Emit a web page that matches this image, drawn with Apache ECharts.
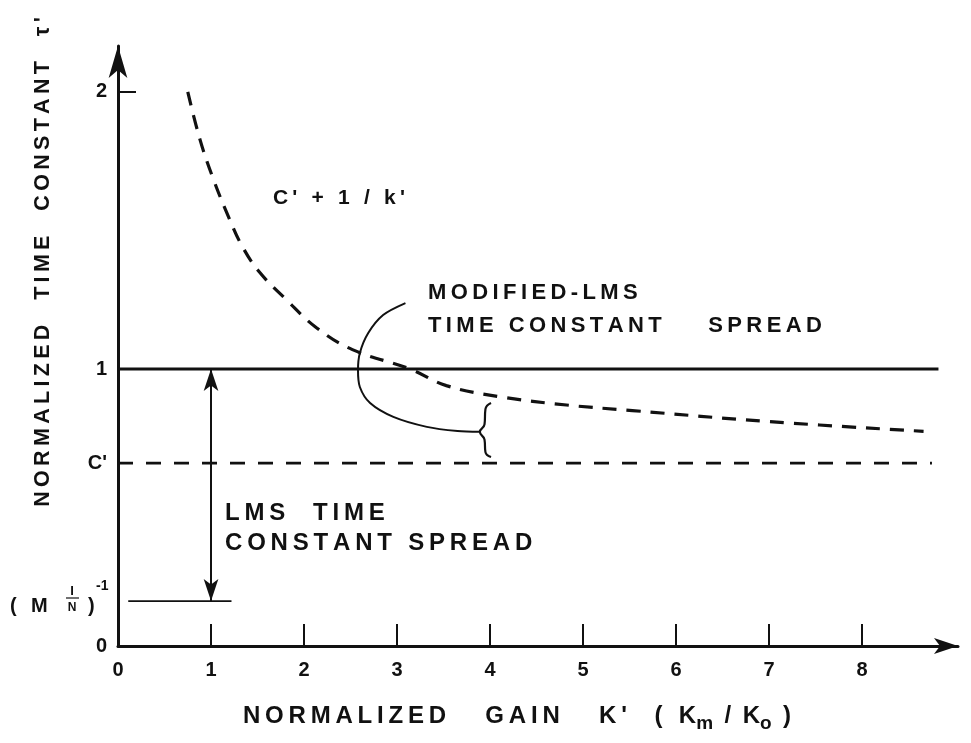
<!DOCTYPE html>
<html>
<head>
<meta charset="utf-8">
<script src="https://cdn.jsdelivr.net/npm/echarts@6/dist/echarts.min.js"></script>
<style>
  html, body { margin: 0; padding: 0; background: #fff; }
  #chart { width: 971px; height: 743px; }
</style>
</head>
<body>
<div id="chart"></div>
<script>
// values
const kTicks = [0, 1, 2, 3, 4, 5, 6, 7, 8];
const tauTicks = [0, 1, 2];
const cPrime = 0.66;     // C'
const invMN = 0.162;     // (M I/N)^-1

// dashed curve C' + 1/k'
const curveK   = [0.75, 0.88, 1.02, 1.2, 1.34, 1.52, 1.81, 2.13, 2.52, 3.14, 3.53, 4.1, 4.82, 5.53, 7.0, 8.66];
const curveTau = [2.0, 1.83, 1.69, 1.54, 1.44, 1.35, 1.25, 1.15, 1.07, 1.0, 0.94, 0.9, 0.87, 0.85, 0.81, 0.775];

// horizontal reference lines (k extent)
const oneLineK = [0, 8.82];
const cLineK = [0, 8.75];
const mnLineK = [0.11, 1.22];

// leader line from the MODIFIED-LMS note to the brace
const leaderK   = [3.09, 2.85, 2.69, 2.60, 2.58, 2.60, 2.71, 2.96, 3.32, 3.65, 3.89];
const leaderTau = [1.238, 1.195, 1.13, 1.058, 0.996, 0.935, 0.877, 0.827, 0.791, 0.776, 0.773];
// brace between the curve and C'
const braceK   = [4.01, 3.95, 3.94, 3.89, 3.94, 3.95, 4.01];
const braceTau = [0.877, 0.855, 0.80, 0.773, 0.745, 0.70, 0.682];

const zip = (a, b) => a.map((v, i) => [v, b[i]]);
const sp = s => s.split('').join('\u2009');
const ink = '#111';
const font = 'Liberation Sans';

const chart = echarts.init(document.getElementById('chart'));
chart.setOption({
  backgroundColor: '#fff',
  animation: false,
  grid: { left: 118, right: 13, top: 46, bottom: 97 },
  xAxis: {
    type: 'value', min: 0, max: 9.03, interval: 1,
    axisLine: { lineStyle: { color: ink, width: 3 }, symbol: ['none', 'arrow'], symbolSize: [12, 24] },
    axisTick: { inside: true, length: 22, lineStyle: { color: ink, width: 2 }, customValues: kTicks.slice(1) },
    axisLabel: { color: ink, fontFamily: font, fontWeight: 'bold', fontSize: 20, margin: 14, customValues: kTicks },
    splitLine: { show: false }
  },
  yAxis: {
    type: 'value', min: 0, max: 2.166, interval: 1,
    axisLine: { show: true, lineStyle: { color: ink, width: 3 }, symbol: ['none', 'arrow'], symbolSize: [14, 32] },
    axisTick: { show: true, inside: true, length: 18, lineStyle: { color: ink, width: 2 }, customValues: [2] },
    axisLabel: {
      color: ink, fontFamily: font, fontWeight: 'bold', fontSize: 20, margin: 11,
      customValues: tauTicks.concat([cPrime]),
      formatter: v => (Math.abs(v - cPrime) < 1e-6 ? "C'" : String(v))
    },
    splitLine: { show: false }
  },
  graphic: [
    { type: 'text', x: 43, y: 262, rotation: Math.PI / 2,
      style: { text: sp("NORMALIZED  TIME  CONSTANT  τ'"), fill: ink, font: 'bold 21.5px ' + font, align: 'center', verticalAlign: 'middle' } },
    { type: 'text', x: 517, y: 716,
      style: {
        text: '{t|' + sp("NORMALIZED   GAIN   K'  ( K") + '}{s|m}{t|\u2009 / \u2009K}{s|o}{t|\u2009 )}',
        align: 'center', verticalAlign: 'middle',
        rich: {
          t: { fill: ink, font: 'bold 24px ' + font },
          s: { fill: ink, font: 'bold 19px ' + font, padding: [15, 0, 0, 0] }
        }
      } },
    { type: 'text', x: 273, y: 198,
      style: { text: sp("C' + 1 / k'"), fill: ink, font: 'bold 21px ' + font, verticalAlign: 'middle' } },
    { type: 'text', x: 428, y: 309,
      style: { text: sp('MODIFIED-LMS') + '\n' + sp('TIME CONSTANT    SPREAD'), fill: ink, font: 'bold 22px ' + font, lineHeight: 33, verticalAlign: 'middle' } },
    { type: 'text', x: 225, y: 528,
      style: { text: sp('LMS  TIME') + '\n' + sp('CONSTANT SPREAD'), fill: ink, font: 'bold 24px ' + font, lineHeight: 30, verticalAlign: 'middle' } },
    // (M I/N)^-1 label
    { type: 'text', x: 10, y: 606, style: { text: '(', fill: ink, font: 'bold 20px ' + font, verticalAlign: 'middle' } },
    { type: 'text', x: 31, y: 606, style: { text: 'M', fill: ink, font: 'bold 20px ' + font, verticalAlign: 'middle' } },
    { type: 'text', x: 72, y: 591, style: { text: 'I', fill: ink, font: 'bold 13px ' + font, align: 'center', verticalAlign: 'middle' } },
    { type: 'line', shape: { x1: 66, y1: 598, x2: 79, y2: 598 }, style: { stroke: ink, lineWidth: 1.2 } },
    { type: 'text', x: 72, y: 608, style: { text: 'N', fill: ink, font: 'bold 12px ' + font, align: 'center', verticalAlign: 'middle' } },
    { type: 'text', x: 88, y: 606, style: { text: ')', fill: ink, font: 'bold 20px ' + font, verticalAlign: 'middle' } },
    { type: 'text', x: 96, y: 586, style: { text: '-1', fill: ink, font: 'bold 14px ' + font, verticalAlign: 'middle' } }
  ],
  series: [
    {
      name: "C' + 1/k'", type: 'line', smooth: 0.4, showSymbol: false,
      data: zip(curveK, curveTau),
      lineStyle: { color: ink, width: 3.2, type: [14, 10] }
    },
    {
      name: 'one', type: 'line', showSymbol: false,
      data: oneLineK.map(k => [k, 1]),
      lineStyle: { color: ink, width: 3 },
      markLine: {
        silent: true, symbol: ['arrow', 'arrow'], symbolSize: [11, 22],
        label: { show: false },
        lineStyle: { color: ink, width: 2, type: 'solid' },
        data: [[{ coord: [1, 1] }, { coord: [1, invMN] }]]
      }
    },
    {
      name: "C'", type: 'line', showSymbol: false,
      data: cLineK.map(k => [k, cPrime]),
      lineStyle: { color: ink, width: 2.6, type: [15, 13] }
    },
    {
      name: 'MN', type: 'line', showSymbol: false,
      data: mnLineK.map(k => [k, invMN]),
      lineStyle: { color: ink, width: 1.6 }
    },
    {
      name: 'leader', type: 'line', smooth: 0.3, showSymbol: false,
      data: zip(leaderK, leaderTau),
      lineStyle: { color: ink, width: 2 }
    },
    {
      name: 'brace', type: 'line', smooth: 0.5, showSymbol: false,
      data: zip(braceK, braceTau),
      lineStyle: { color: ink, width: 2.2 }
    }
  ]
});
</script>
</body>
</html>
